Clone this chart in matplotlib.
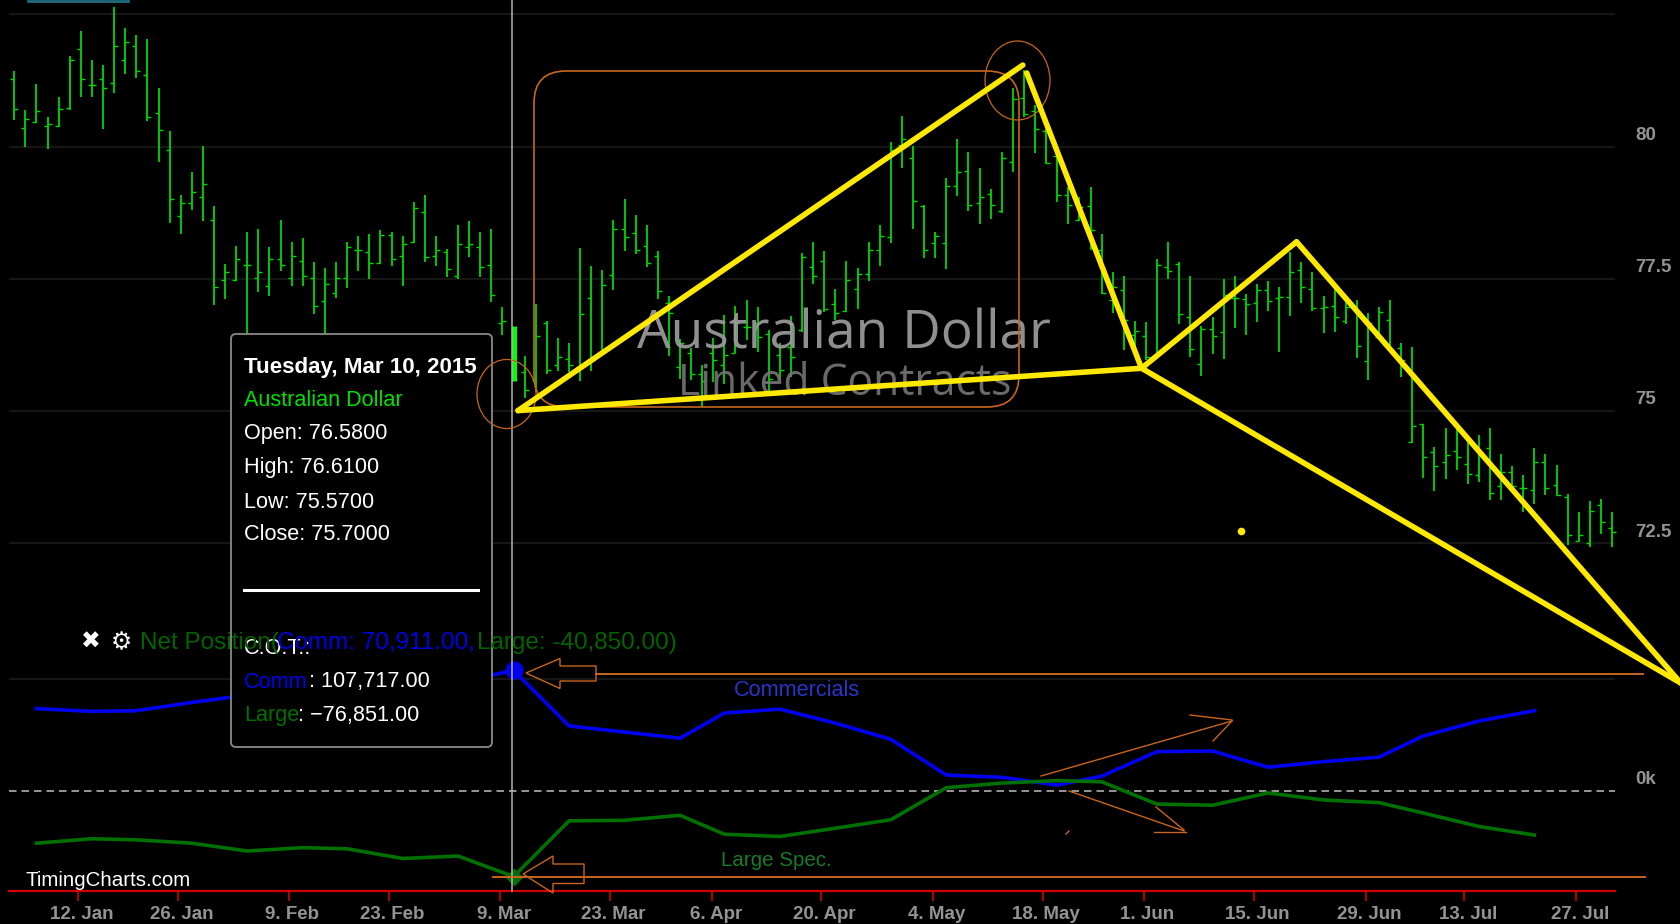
import numpy as np
import matplotlib
matplotlib.use("Agg")
import matplotlib.pyplot as plt
from matplotlib.patches import Ellipse, FancyBboxPatch, Polygon
from matplotlib.transforms import ScaledTranslation

# daily bars, price in US cents
highs = [81.43, 80.69, 81.19, 80.55, 80.94, 81.72, 82.18, 81.64, 81.54, 82.64,
         82.25, 82.11, 82.04, 81.11, 80.30, 79.09, 79.52, 80.02, 78.88, 77.78,
         78.13, 78.38, 78.45, 78.10, 78.62, 78.20, 78.27, 77.81, 77.71, 77.81,
         78.20, 78.31, 78.35, 78.42, 78.38, 78.31, 78.95, 79.09, 78.31, 78.06,
         78.52, 78.59, 78.38, 78.45, 76.96, 76.61, 76.04, 77.02, 76.70, 76.39,
         76.28, 78.09, 77.74, 77.67, 78.62, 79.01, 78.70, 78.52, 78.02, 77.17,
         76.36, 76.20, 75.87, 76.39, 76.82, 76.99, 77.10, 76.96, 76.53, 76.28,
         76.79, 77.98, 78.20, 78.03, 77.31, 77.84, 77.70, 78.20, 78.52, 80.08,
         80.58, 80.01, 78.90, 78.38, 79.40, 80.15, 79.90, 79.59, 79.19, 79.90,
         81.11, 81.45, 80.78, 80.34, 79.84, 79.24, 79.05, 79.23, 78.34, 77.63,
         77.56, 76.71, 76.68, 77.88, 78.20, 77.81, 77.56, 76.60, 76.77, 77.50,
         77.56, 77.21, 77.41, 77.46, 77.35, 78.01, 77.81, 77.63, 77.17, 77.35,
         77.13, 77.10, 76.85, 76.96, 77.10, 76.28, 76.22, 74.75, 74.33, 74.68,
         74.67, 74.45, 74.55, 74.68, 74.19, 73.97, 73.80, 74.30, 74.19, 73.98,
         73.44, 73.10, 73.31, 73.34, 73.10]
lows = [80.51, 79.99, 80.44, 79.95, 80.37, 80.69, 80.94, 80.94, 80.34, 81.01,
        81.37, 81.30, 80.48, 79.70, 78.56, 78.35, 78.81, 78.59, 77.01, 77.11,
        77.46, 76.09, 77.25, 77.18, 77.64, 77.36, 77.36, 76.83, 76.28, 77.14,
        77.32, 77.64, 77.50, 77.78, 77.74, 77.36, 78.17, 77.81, 77.74, 77.53,
        77.50, 77.92, 77.53, 77.07, 76.44, 75.57, 75.24, 75.37, 75.70, 75.76,
        75.73, 75.56, 75.76, 76.12, 77.29, 78.03, 77.97, 77.72, 77.11, 76.05,
        75.61, 75.59, 75.08, 75.55, 75.51, 76.09, 76.34, 76.12, 75.34, 75.59,
        75.65, 76.50, 77.40, 76.88, 76.72, 76.88, 76.93, 77.46, 77.75, 78.18,
        79.59, 78.45, 77.89, 77.89, 77.68, 79.06, 78.78, 78.53, 78.64, 78.74,
        79.52, 80.56, 79.88, 79.67, 78.96, 78.54, 78.59, 78.04, 77.22, 76.86,
        76.15, 76.09, 75.97, 76.03, 77.50, 76.65, 76.02, 75.66, 76.08, 75.98,
        76.58, 76.44, 76.68, 76.90, 76.11, 76.79, 77.04, 76.90, 76.47, 76.50,
        76.65, 76.01, 75.59, 76.34, 76.12, 75.65, 74.39, 73.73, 73.49, 73.71,
        73.88, 73.63, 73.66, 73.32, 73.32, 73.54, 73.10, 73.24, 73.41, 73.39,
        72.47, 72.53, 72.43, 72.67, 72.43]
opens = [81.28, 80.35, 80.46, 80.39, 80.39, 80.72, 81.84, 81.17, 81.28, 81.21,
         81.63, 81.91, 81.35, 80.63, 79.93, 78.68, 78.94, 79.04, 78.61, 77.48,
         77.48, 77.76, 77.52, 77.37, 77.87, 77.52, 77.83, 77.52, 77.09, 77.23,
         77.52, 78.05, 78.01, 77.80, 78.33, 77.94, 78.19, 78.76, 77.94, 78.01,
         77.55, 78.11, 78.11, 77.76, 76.67, 76.58, 75.74, 75.59, 76.67, 75.88,
         75.99, 75.84, 77.13, 76.12, 77.58, 78.44, 78.37, 78.12, 77.94, 77.05,
         75.84, 76.09, 75.71, 76.10, 75.87, 76.10, 76.59, 76.66, 76.46, 76.06,
         76.22, 76.53, 77.73, 77.83, 77.02, 76.90, 77.31, 77.59, 78.04, 78.30,
         80.03, 79.79, 78.87, 78.18, 78.18, 79.25, 79.54, 78.93, 79.10, 78.78,
         79.71, 80.92, 80.68, 80.29, 79.82, 79.08, 78.61, 78.88, 78.04, 77.10,
         77.28, 76.44, 76.42, 76.03, 77.73, 77.78, 76.77, 75.89, 76.56, 76.49,
         77.13, 77.12, 77.05, 77.28, 77.14, 77.16, 77.66, 77.31, 76.95, 76.98,
         76.70, 76.97, 75.95, 76.41, 76.73, 76.20, 74.42, 74.75, 74.22, 74.04,
         74.25, 74.00, 73.79, 74.30, 73.58, 73.84, 73.54, 73.51, 74.04, 73.61,
         73.37, 72.54, 72.51, 73.22, 72.80]
closes = [80.71, 80.53, 80.67, 80.43, 80.71, 81.63, 81.28, 81.17, 81.10, 81.91,
          81.98, 81.42, 80.56, 80.32, 79.00, 78.94, 79.15, 79.29, 77.34, 77.62,
          77.87, 77.76, 77.62, 77.87, 77.76, 77.94, 77.55, 76.99, 77.41, 77.52,
          78.11, 78.05, 77.80, 78.33, 77.87, 78.15, 78.83, 77.91, 78.05, 77.69,
          78.15, 78.15, 77.73, 77.19, 76.70, 75.70, 75.39, 76.42, 75.78, 76.03,
          75.88, 76.84, 75.97, 77.38, 78.44, 78.30, 78.04, 77.80, 77.27, 76.85,
          76.28, 75.71, 75.57, 75.97, 76.06, 76.66, 76.59, 76.41, 75.61, 75.78,
          76.03, 77.92, 77.55, 76.93, 76.85, 77.48, 77.60, 78.04, 78.31, 79.93,
          80.14, 78.97, 78.04, 78.31, 79.25, 79.51, 78.90, 79.04, 78.90, 79.78,
          80.89, 80.61, 80.34, 79.68, 79.08, 78.90, 78.86, 78.42, 77.24, 77.35,
          76.72, 76.52, 76.03, 77.77, 77.65, 76.83, 76.17, 76.56, 76.42, 77.19,
          77.13, 77.02, 77.28, 77.09, 77.16, 77.62, 77.34, 76.94, 76.97, 76.77,
          76.97, 76.23, 76.66, 76.88, 76.13, 75.96, 74.72, 74.14, 73.97, 74.17,
          74.14, 73.82, 74.20, 73.46, 73.84, 73.58, 73.54, 74.04, 73.54, 73.41,
          72.66, 72.66, 73.12, 72.91, 72.72]
selected_bar = 45

# weekly COT net positions, thousands of contracts
cot_index = [2, 7, 11, 16, 21, 26, 30, 35, 40, 45, 50, 55, 60, 64, 69, 74, 79, 84,
             89, 94, 98, 103, 108, 113, 118, 123, 127, 132, 137]
commercials = [73.5, 71, 71.6, 79, 85.7, 91, 94, 96, 97, 107.7, 58, 52.5, 47, 69.5,
               73, 60.5, 46, 14, 12, 5, 13, 35, 35.5, 21, 26, 30, 49, 62.4, 71.6]
large_spec = [-47, -43, -44, -47, -54, -51, -52, -60.7, -58.5, -76.85, -27, -26.5,
              -22, -39, -41, -33.6, -26, 2.7, 6.8, 9, 8, -12, -13, -2, -8.3, -10.7,
              -20, -32, -39.7]

tick_pos = [5.74, 14.75, 24.76, 33.77, 43.8, 53.7, 62.9, 72.7, 82.8, 92.7, 101.8,
            111.7, 121.8, 130.7, 140.8]
tick_labels = ["12. Jan", "26. Jan", "9. Feb", "23. Feb", "9. Mar", "23. Mar", "6. Apr",
               "20. Apr", "4. May", "18. May", "1. Jun", "15. Jun", "29. Jun",
               "13. Jul", "27. Jul"]
price_levels = [82.5, 80, 77.5, 75, 72.5]
price_labels = ["", "80", "77.5", "75", "72.5"]

# hand drawn yellow pattern, bar index / price
up_x, up_y = [45.4, 90.9], [75.01, 81.54]
flat_x, flat_y = [45.4, 101.6], [75.01, 75.81]
drop_x, drop_y = [91.25, 101.6], [81.39, 75.81]
rise_x, rise_y = [101.6, 115.57], [75.81, 78.20]
fall_x, fall_y = [115.57, 150.2], [78.20, 69.86]
wedge_x, wedge_y = [101.6, 150.2], [75.81, 69.86]
stray_x, stray_y = [110.6], [72.74]

tooltip_prices = ["Open: 76.5800", "High: 76.6100", "Low: 75.5700", "Close: 75.7000"]

W, H = 1681, 924
GREEN = "#00d800"
ORANGE = "#c8651e"
GREY = "#939393"
YELLOW = "#ffe900"
FONT = "Liberation Sans"
TIP = 15.6

plt.rcParams["font.family"] = [FONT, "DejaVu Sans"]
fig = plt.figure(figsize=(W / 100, H / 100), dpi=100, facecolor="black")

# price panel, the bottom spine is the red time axis
ax = fig.add_axes([0, 33 / H, 1, 891 / H], facecolor="black", zorder=1)
ax.set_xlim(-1.289, 150.22)
ax.set_ylim(65.93, 82.77)
axis_left, axis_right = -0.5, 144.3
for s in ["top", "left", "right"]:
    ax.spines[s].set_visible(False)
ax.spines["bottom"].set_color("#d00000")
ax.spines["bottom"].set_linewidth(1.6)
ax.spines["bottom"].set_bounds(axis_left, axis_right)
ax.set_yticks([])
ax.set_xticks(tick_pos)
ax.set_xticklabels(tick_labels, fontsize=13.5, fontweight="bold", color=GREY)
ax.tick_params(axis="x", colors="#d00000", length=7, width=1.2, pad=4, labelcolor=GREY)
for lab in ax.get_xticklabels():
    lab.set_transform(lab.get_transform() + ScaledTranslation(2.5 / 72, 0, fig.dpi_scale_trans))

ax.hlines(price_levels, axis_left, axis_right, color="#1b1b1b", lw=1.2, zorder=1)
for level, label in zip(price_levels, price_labels):
    ax.annotate(label, (146.07, level), xytext=(0, 8), textcoords="offset points",
                ha="left", va="center", fontsize=13.5, fontweight="bold", color=GREY)

idx = np.arange(len(highs))
others = idx != selected_bar
ax.vlines(idx[others], np.array(lows)[others], np.array(highs)[others], color=GREEN, lw=1.3, zorder=2)
ax.hlines(np.array(opens)[others], idx[others] - 0.36, idx[others], color=GREEN, lw=1, zorder=2)
ax.hlines(np.array(closes)[others], idx[others], idx[others] + 0.36, color=GREEN, lw=1, zorder=2)
ax.vlines(selected_bar, lows[selected_bar], highs[selected_bar], color="#00ff00", lw=3.6, zorder=2)

ax.text(74.8, 76.19, "Australian Dollar", fontsize=38.3, color="#9c9c9c", ha="center",
        va="baseline", alpha=0.92, zorder=3, family="Open Sans")
ax.text(74.8, 75.3, "Linked Contracts", fontsize=30.7, color="#757575", ha="center",
        va="baseline", alpha=0.9, zorder=3, family="Open Sans")

# COT panel on the same frame
cot = fig.add_axes([0, 33 / H, 1, 891 / H], zorder=2)
cot.patch.set_visible(False)
cot.axis("off")
cot.set_xlim(ax.get_xlim())
cot.set_ylim(-89.8, 707.9)
cot.hlines(100, axis_left, axis_right, color="#1b1b1b", lw=1.2)
cot.hlines(0, axis_left, axis_right, color="#b0b0b0", lw=1.2, linestyles=(0, (4.5, 3)))
cot.plot(cot_index, commercials, color="#0000f0", lw=2.6, solid_joinstyle="miter")
cot.plot(cot_index, large_spec, color="#007000", lw=2.6, solid_joinstyle="miter")
cot.plot(cot_index[9], commercials[9], "o", color="#0000f0", ms=12, zorder=5)
cot.plot(cot_index[9], large_spec[9], "D", color="#0a6b0a", ms=8.5, zorder=5)
cot.annotate("0k", (146.07, 0), xytext=(0, 8), textcoords="offset points", ha="left",
             va="center", fontsize=13.5, fontweight="bold", color=GREY)

# overlay in pixels for the tooltip and the orange mark-up
top = fig.add_axes([0, 0, 1, 1], zorder=3)
top.patch.set_visible(False)
top.axis("off")
top.set_xlim(0, W)
top.set_ylim(H, 0)

top.plot([28, 128], [0.5, 0.5], color="#1f6b80", lw=2)
top.plot([512.5, 512.5], [0, 891], color="#b4b4b4", lw=1.1, zorder=2)

top.add_patch(FancyBboxPatch((236, 339), 251, 403, boxstyle="round,pad=5,rounding_size=5",
                             fc="black", ec="#8a8a8a", lw=1.3, zorder=3))
tip_x = 244
top.text(tip_x, 367, "Tuesday, Mar 10, 2015", color="white", fontsize=16.1, fontweight="bold", va="center", zorder=4)
top.text(tip_x, 401, "Australian Dollar", color="#00e000", fontsize=TIP, va="center", zorder=4)
for y, s in zip([434, 468, 502, 535], tooltip_prices):
    top.text(tip_x, y, s, color="white", fontsize=TIP, va="center", zorder=4)
top.plot([244, 478], [590, 590], color="white", lw=2.2, zorder=4)
top.text(tip_x, 649, "C.O.T.:", color="white", fontsize=TIP, va="center", zorder=4)
top.text(tip_x, 682, "Comm", color="#0000f0", fontsize=TIP, va="center", zorder=4)
top.text(309, 682, ": 107,717.00", color="white", fontsize=TIP, va="center", zorder=4)
top.text(tip_x, 715, "Large", color="#007000", fontsize=TIP, va="center", zorder=4)
top.text(298, 715, ": \u221276,851.00", color="white", fontsize=TIP, va="center", zorder=4)

top.text(91, 642, "\u2716", color="white", fontsize=17, ha="center", va="center", family="DejaVu Sans", zorder=5)
top.text(121, 642, "\u2699", color="white", fontsize=17, fontweight="bold", ha="center", va="center", family="DejaVu Sans", zorder=5)
top.text(140.5, 643, "Net Position(", color="#006400", fontsize=17.5, va="center", zorder=5)
top.text(277, 643, "Comm: 70,911.00,", color="#0000e6", fontsize=17.5, va="center", zorder=5)
top.text(477, 643, "Large: -40,850.00)", color="#006400", fontsize=17.5, va="center", zorder=5)

top.text(26, 880, "TimingCharts.com", color="white", fontsize=14.8, va="center", zorder=5)
top.text(734, 691, "Commercials", color="#2a35c8", fontsize=15.6, va="center", zorder=5)
top.text(721.5, 861, "Large Spec.", color="#1a7a2a", fontsize=14.8, va="center", zorder=5)

# orange mark-up
top.add_patch(FancyBboxPatch((566, 103), 421, 272, boxstyle="round,pad=32,rounding_size=32",
                             fc="none", ec=ORANGE, lw=1.2, zorder=6))
top.add_patch(Ellipse((506.5, 394), 59, 69, fc="none", ec=ORANGE, lw=0.9, zorder=6))
top.add_patch(Ellipse((1017.5, 80.5), 65, 79, fc="none", ec=ORANGE, lw=0.9, zorder=6))
top.add_patch(Polygon([(526, 673), (560, 658.5), (560, 666), (596, 666), (596, 681), (560, 681), (560, 688.5)],
                      fc="none", ec=ORANGE, lw=1, zorder=6))
top.add_patch(Polygon([(523, 874), (553, 856), (553, 864), (584, 864), (584, 883.5), (553, 883.5), (553, 893)],
                      fc="none", ec=ORANGE, lw=1, zorder=6))
top.plot([596, 1643], [674, 674], color=ORANGE, lw=1.4, zorder=6)
top.plot([493, 1645], [876.7, 876.7], color=ORANGE, lw=1.4, zorder=6)
for xs, ys in [([1041, 1232], [776, 721]), ([1190, 1232], [715, 720]), ([1232, 1213], [721, 741]),
               ([1069, 1184], [791, 831]), ([1156, 1184], [807, 830]), ([1154, 1186], [832, 832]),
               ([1066, 1069], [834, 831])]:
    top.plot(xs, ys, color=ORANGE, lw=1, zorder=6)

# yellow pattern sits above everything, still in price coordinates
for xs, ys in [(up_x, up_y), (flat_x, flat_y), (drop_x, drop_y), (rise_x, rise_y),
               (fall_x, fall_y), (wedge_x, wedge_y)]:
    top.plot(xs, ys, color=YELLOW, lw=4, transform=ax.transData, zorder=7, solid_capstyle="round", clip_on=False)
top.plot(stray_x, stray_y, "o", color=YELLOW, ms=4.5, transform=ax.transData, zorder=7)
top.set_xlim(0, W)
top.set_ylim(H, 0)

fig.savefig("out.png", dpi=100, facecolor="black")
